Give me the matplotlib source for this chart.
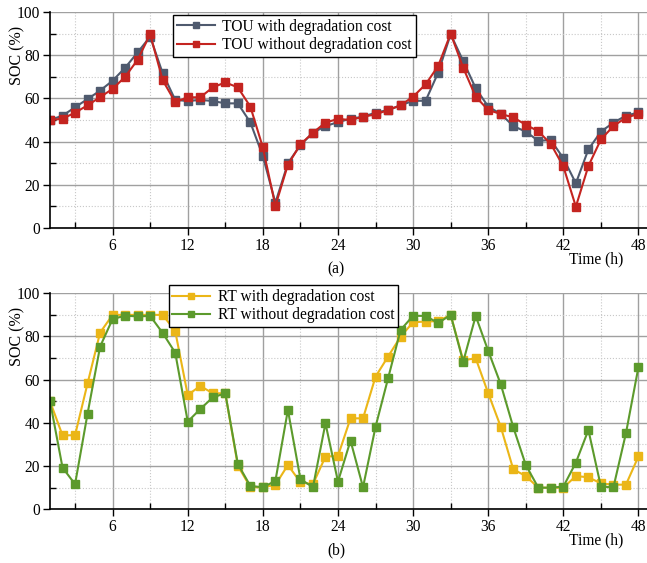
import numpy as np
import matplotlib.pyplot as plt
from matplotlib.ticker import MultipleLocator

plt.rcParams['font.family'] = ['Liberation Serif', 'DejaVu Serif']
plt.rcParams['font.size'] = 11.2

hours = np.arange(1, 49)

# (a) TOU prices
tou_with = [50, 52, 55.9, 59.7, 63.6, 68.2, 74.2, 81.3, 88.6, 71.6,
            59.3, 58.8, 59.3, 58.8, 57.7, 57.7, 48.9, 33.3, 11.7, 30,
            38.4, 44.1, 47.2, 49, 50.6, 51.5, 53.4, 54.6, 56.8, 58.9,
            58.9, 71.9, 89.7, 77.3, 64.7, 56.2, 52.8, 47.2, 44.6, 40.4,
            40.7, 32.3, 20.7, 36.4, 44.6, 48.8, 52, 53.5]
tou_without = [50, 50.6, 53.4, 56.8, 60.6, 64.4, 70, 77.9, 89.7, 68.4,
               58.3, 60.5, 60.5, 65.1, 67.4, 65.1, 56.2, 37.3, 10.2, 29.3,
               38.7, 44.1, 48.8, 50.5, 50, 51.5, 52.6, 54.6, 56.8, 60.8,
               66.5, 75, 90, 74.2, 60.8, 54.6, 52.8, 51.2, 47.8, 44.8,
               38.9, 28.5, 9.9, 28.7, 41, 47.2, 51.1, 52.8]

# (b) RT prices
rt_with = [50, 34.2, 34.3, 58.3, 81.8, 90, 90, 90, 90, 90,
           82.5, 52.9, 57.1, 53.7, 53.7, 20.2, 10.2, 10.2, 11.3, 20.5,
           12.5, 11.6, 24.4, 24.7, 42.1, 42.1, 61.4, 70.7, 79.9, 86.6,
           86.9, 87.1, 90, 69, 69.9, 53.7, 38.2, 18.5, 15.4, 10,
           10, 10, 15.4, 14.8, 12, 11.4, 11.4, 24.5]
rt_without = [50, 19.3, 11.6, 44.3, 75.3, 88.1, 89.6, 89.3, 89.5, 81.6,
              72.5, 40.6, 46.4, 51.8, 53.7, 21, 10.8, 10.2, 13.1, 46,
              14, 10.2, 39.8, 12.8, 31.8, 10.2, 38.2, 60.6, 83, 89.6,
              89.5, 86.2, 90, 68.3, 89.5, 73.3, 57.9, 38, 20.5, 10,
              10, 10.5, 21.6, 36.7, 10.5, 10.2, 35.2, 65.9]

fig = plt.figure(figsize=(6.47, 5.63), dpi=100)
ax1 = fig.add_axes([0.0773, 0.595, 0.925, 0.3837])
ax2 = fig.add_axes([0.0773, 0.0954, 0.925, 0.3837])


def style(ax, tag):
    ax.set_xlim(1, 48.8)
    ax.set_ylim(0, 100)
    ax.xaxis.set_major_locator(MultipleLocator(6))
    ax.xaxis.set_minor_locator(MultipleLocator(3))
    ax.yaxis.set_major_locator(MultipleLocator(20))
    ax.yaxis.set_minor_locator(MultipleLocator(10))
    ax.grid(which='major', color='#a0a0a0', lw=1.0, ls='-')
    ax.grid(which='minor', color='#c8c8c8', lw=0.8, ls=':')
    ax.set_axisbelow(True)
    ax.tick_params(which='major', direction='out', length=5, width=1, pad=2)
    ax.tick_params(which='minor', direction='in', length=4, width=1)
    for s in ['top', 'right']:
        ax.spines[s].set_visible(False)
    for s in ['left', 'bottom']:
        ax.spines[s].set_linewidth(1.2)
    ax.set_ylabel('SOC (%)', fontsize=11.5)
    ax.yaxis.set_label_coords(-0.041, 0.80)
    ax.text(0.958, -0.145, 'Time (h)', transform=ax.transAxes, ha='right', va='center')
    ax.text(0.478, -0.19, tag, transform=ax.transAxes, ha='center', va='center')


def add_legend(ax, x, y):
    ax.legend(loc='upper left', bbox_to_anchor=(x, y), fancybox=False, edgecolor='black',
              framealpha=1, borderpad=0.25, labelspacing=0.15, handlelength=2.4,
              handletextpad=0.5, borderaxespad=0, markerscale=0.65)


ax1.plot(hours, tou_with, '-s', color='#4f5a6e', ms=6, lw=1.5, label='TOU with degradation cost')
ax1.plot(hours, tou_without, '-s', color='#c42420', ms=6, lw=1.5, label='TOU without degradation cost')
style(ax1, '(a)')
add_legend(ax1, 0.206, 0.986)

ax2.plot(hours, rt_with, '-s', color='#ebb617', ms=6, lw=1.5, label='RT with degradation cost')
ax2.plot(hours, rt_without, '-s', color='#5c9a2c', ms=6, lw=1.5, label='RT without degradation cost')
style(ax2, '(b)')
add_legend(ax2, 0.198, 1.037)

plt.savefig('out.png', dpi=100)
